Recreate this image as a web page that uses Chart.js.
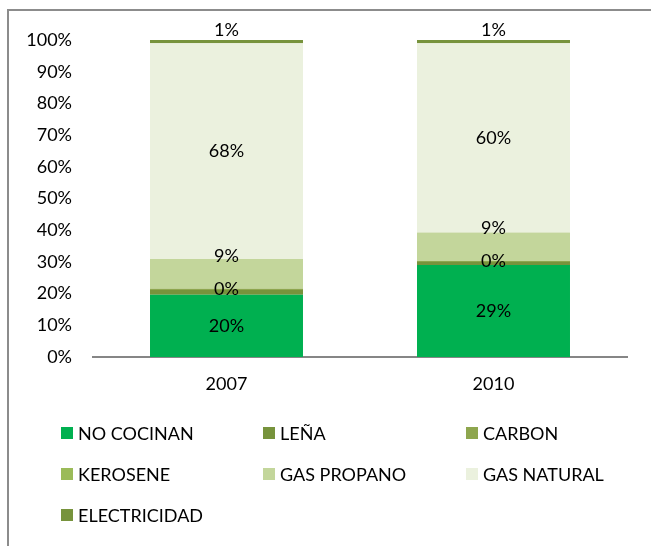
<!DOCTYPE html>
<html><head><meta charset="utf-8">
<script src="https://cdn.jsdelivr.net/npm/chart.js@4.4.1/dist/chart.umd.min.js"></script>
<style>
html,body{margin:0;padding:0;background:#fff;overflow:hidden;}
#wrap{position:relative;width:651px;height:546px;}
#frame{position:absolute;left:7px;top:9px;width:700px;height:600px;border-left:2px solid #8c8c8c;border-top:2px solid #8c8c8c;box-sizing:border-box;}
canvas{position:absolute;left:0;top:0;}
</style></head>
<body><div id="wrap"><div id="frame"></div><canvas id="c" width="651" height="546"></canvas></div>
<script>
const categories = ['2007', '2010'];
const seriesNames = ['NO COCINAN', 'LEÑA', 'CARBON', 'KEROSENE', 'GAS PROPANO', 'GAS NATURAL', 'ELECTRICIDAD'];
const noCocinan   = [19.6, 29.0];
const lena        = [1.5, 1.0];
const carbon      = [0.4, 0.3];
const kerosene    = [0.1, 0.1];
const gasPropano  = [9.3, 8.9];
const gasNatural  = [68.1, 59.7];
const electricidad= [1.0, 1.0];
const yTicks = [0,10,20,30,40,50,60,70,80,90,100];
const labeledSeries = ['NO COCINAN', 'CARBON', 'GAS PROPANO', 'GAS NATURAL', 'ELECTRICIDAD'];

const values = [noCocinan, lena, carbon, kerosene, gasPropano, gasNatural, electricidad];
const colors = ['#00B050', '#77933C', '#8EA64E', '#9BBB59', '#C3D69B', '#EBF1DE', '#77933C'];
const labelOffsets = [0, 0, 0, 0, -18, 0, -11];
const FONT = 'Lato, "Open Sans", sans-serif';
const FS = 18;

const datasets = seriesNames.map((n, i) => ({
  label: n, data: values[i], backgroundColor: colors[i], borderWidth: 0,
  barPercentage: 0.573, categoryPercentage: 1.0
}));

const labelPlugin = {
  id: 'lbl',
  afterDatasetsDraw(chart) {
    const ctx = chart.ctx;
    ctx.save();
    ctx.font = FS + 'px ' + FONT;
    ctx.fillStyle = '#000';
    ctx.textAlign = 'center';
    ctx.textBaseline = 'middle';
    chart.data.datasets.forEach((ds, di) => {
      if (!labeledSeries.includes(ds.label)) return;
      const meta = chart.getDatasetMeta(di);
      meta.data.forEach((bar, j) => {
        const cy = (bar.y + bar.base) / 2 + labelOffsets[di];
        ctx.fillText(Math.round(ds.data[j]) + '%', bar.x, cy);
      });
    });
    ctx.restore();
  }
};

const legendPlugin = {
  id: 'gridLegend',
  afterDraw(chart) {
    const ctx = chart.ctx;
    ctx.save();
    ctx.font = FS + 'px ' + FONT;
    ctx.textAlign = 'left';
    ctx.textBaseline = 'middle';
    const colX = [61, 263, 466];
    const rowY = [433, 474, 515];
    chart.data.datasets.forEach((ds, i) => {
      const x = colX[i % 3], y = rowY[Math.floor(i / 3)];
      ctx.fillStyle = ds.backgroundColor;
      ctx.fillRect(x, y - 6, 12, 12);
      ctx.fillStyle = '#000';
      ctx.fillText(ds.label, x + 17, y + 1);
    });
    ctx.restore();
  }
};

new Chart(document.getElementById('c'), {
  type: 'bar',
  data: { labels: categories, datasets },
  options: {
    responsive: false, animation: false,
    layout: { padding: { top: 40, right: 24, left: 0, bottom: 0 } },
    plugins: { legend: { display: false }, tooltip: { enabled: false } },
    scales: {
      x: {
        stacked: true,
        grid: { display: false, drawTicks: false },
        border: { display: true, color: '#868686', width: 2 },
        ticks: { color: '#000', font: { family: FONT, size: FS }, padding: 16 },
        afterFit(s) { s.height = 546 - 357; }
      },
      y: {
        stacked: true, min: 0, max: 100,
        afterBuildTicks(s) { s.ticks = yTicks.map(v => ({ value: v })); },
        grid: { display: false, drawTicks: false },
        border: { display: false },
        ticks: { color: '#000', font: { family: FONT, size: FS }, padding: 21, callback: v => v + '%' },
        afterFit(s) { s.width = 93; }
      }
    }
  },
  plugins: [labelPlugin, legendPlugin]
});
</script></body></html>
